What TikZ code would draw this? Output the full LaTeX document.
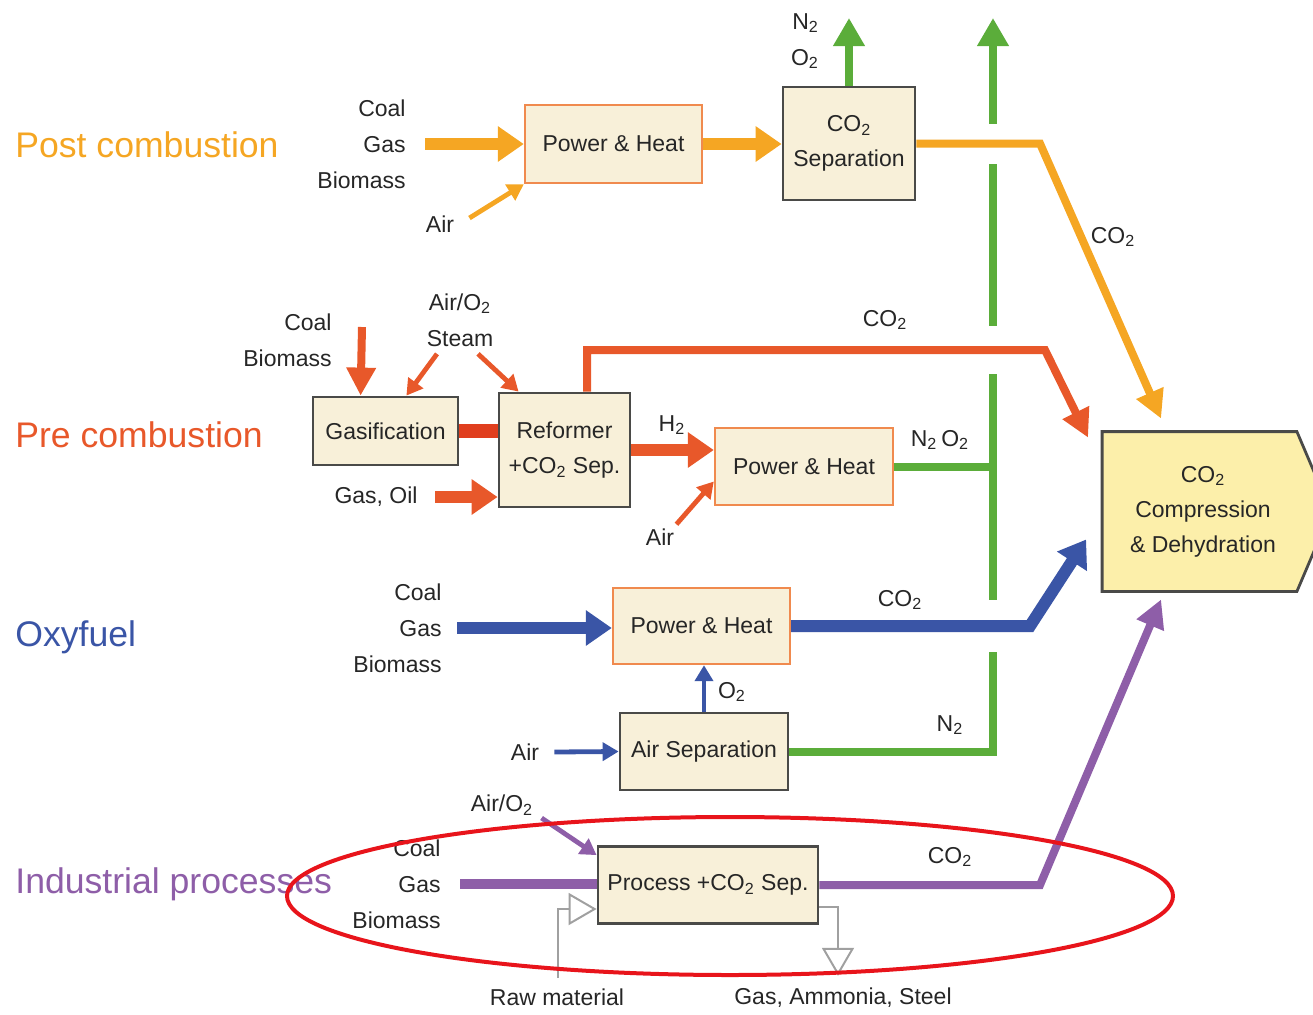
\documentclass[tikz,border=0pt]{standalone}
\usepackage{fontspec}
\setmainfont{Liberation Sans}
\usetikzlibrary{arrows.meta,calc,backgrounds}

\definecolor{couleurpost}{HTML}{F5A623}
\definecolor{couleurpre}{HTML}{E8582A}
\definecolor{couleurrouge}{HTML}{E03E1E}
\definecolor{couleuroxy}{HTML}{3A55A6}
\definecolor{couleurindu}{HTML}{8E5EA8}
\definecolor{couleurvert}{HTML}{5BAD3A}
\definecolor{couleurgris}{HTML}{A0A0A0}
\definecolor{couleurboite}{HTML}{F8F0D9}
\definecolor{couleurcomp}{HTML}{FCEFAA}
\definecolor{couleurbord}{HTML}{4A4A48}
\definecolor{couleurbordph}{HTML}{F08A4E}
\definecolor{couleurtext}{HTML}{262626}
\definecolor{couleurcercle}{HTML}{E8141B}
\tikzset{
		basic/.style={draw=couleurbord, line width=1.4pt, fill=couleurboite, text=couleurtext, align=center, font=\fontsize{11.5}{17.5}\selectfont, inner sep=0pt, anchor=center},
		chaleur/.style={basic, draw=couleurbordph, line width=1.2pt},
		etiquette/.style={text=couleurtext, align=center, font=\fontsize{11.5}{18}\selectfont, inner sep=0pt},
		titre/.style={anchor=west, inner sep=0pt, font=\fontsize{17.8}{20}\selectfont},
		grosse/.style={line width=6pt, -{Triangle[width=17pt,length=13pt]}},
		moyenne/.style={line width=4pt, -{Triangle[width=14pt,length=14pt]}},
		fine/.style={line width=2.4pt, -{Triangle[width=9pt,length=8pt]}},
		montee/.style={couleurvert, line width=4pt, -{Triangle[width=15pt,length=14pt]}},
		trou/.style={white, line width=20pt, shorten <=2pt},
		creux/.style={couleurgris, line width=1pt, -{Triangle[open,width=16pt,length=14pt]}}
	}

\begin{document}
\begin{tikzpicture}[x=0.5pt, y=-0.5pt]
		\useasboundingbox (0,0) rectangle (1313,1014);
		% titres
		\node[titre, text=couleurpost](titrepost) at (15,145) {Post combustion};
		\node[titre, text=couleurpre](titrepre) at (15,435) {Pre combustion};
		\node[titre, text=couleuroxy](titreoxy) at (15,637) {Oxyfuel};
		\node[titre, text=couleurindu](titreindu) at (15,884) {Industrial processes};
		% boites
		\node[chaleur, minimum width=88.5pt, minimum height=39pt](chaleurpost) at (613.5,144) {Power \& Heat};
		\node[basic, minimum width=66pt, minimum height=56.5pt](separation) at (849,143.5) {CO\textsubscript{2}\\Separation};
		\node[basic, minimum width=72.5pt, minimum height=34pt](gazeif) at (385.5,431) {Gasification};
		\node[basic, minimum width=65.5pt, minimum height=57pt](reformeur) at (564.5,450) {Reformer\\+CO\textsubscript{2} Sep.};
		\node[chaleur, minimum width=89pt, minimum height=38.5pt](chaleurpre) at (804,466.5) {Power \& Heat};
		\node[chaleur, minimum width=88.5pt, minimum height=38pt](chaleuroxy) at (701.5,626) {Power \& Heat};
		\node[basic, minimum width=84pt, minimum height=38.5pt](sepair) at (704,751.5) {Air Separation};
		\node[basic, minimum width=110pt, minimum height=38.5pt](procede) at (708,885) {Process +CO\textsubscript{2} Sep.};
		\node[basic, draw=none, fill=none, minimum width=97.5pt, minimum height=78.5pt](compression) at (1203,511.5) {CO\textsubscript{2}\\Compression\\\& Dehydration};
		\begin{scope}[on background layer]
			\filldraw[fill=couleurcomp, draw=couleurbord, line width=1.4pt] ($(compression.north west)+(-2,0)$) -- ($(compression.north east)+(-5,0)$) -- ($(compression.east)+(29,0)$) -- ($(compression.south east)+(-5,0)$) -- ($(compression.south west)+(-2,0)$) -- cycle;
		\end{scope}
		% etiquettes
		\node[etiquette, align=right, anchor=east](entreepost) at (406,144) {Coal\\Gas\\Biomass};
		\node[etiquette](airpost) at (440,224) {Air};
		\node[etiquette, align=right](sortiepost) at (805,41) {N\textsubscript{2}\\O\textsubscript{2}};
		\node[etiquette, align=right, anchor=east](entreepre) at (332,340) {Coal\\Biomass};
		\node[etiquette](airpre) at (460,320) {Air/O\textsubscript{2}\\Steam};
		\node[etiquette, anchor=east](gazpetrole) at (418,497) {Gas, Oil};
		\node[etiquette](hydrogene) at (672,425) {H\textsubscript{2}};
		\node[etiquette](airpre2) at (660,537) {Air};
		\node[etiquette](azoxpre) at (940,440) {N\textsubscript{2}\,O\textsubscript{2}};
		\node[etiquette, align=right, anchor=east](entreeoxy) at (442,628) {Coal\\Gas\\Biomass};
		\node[etiquette](airoxy) at (525,752) {Air};
		\node[etiquette](oxygene) at (732,692) {O\textsubscript{2}};
		\node[etiquette](azote) at (950,725) {N\textsubscript{2}};
		\node[etiquette, align=right, anchor=east](entreeindu) at (441,884) {Coal\\Gas\\Biomass};
		\node[etiquette](airindu) at (502,805) {Air/O\textsubscript{2}};
		\node[etiquette](matiere) at (557,997) {Raw material};
		\node[etiquette](produits) at (843,998) {Gas, Ammonia, Steel};
		% coudes
		\coordinate (coudepost) at (1040,143.5);
		\coordinate (coudepre1) at (587,350);
		\coordinate (coudepre2) at (1045,350);
		\coordinate (coudeoxy) at (1030,626);
		\coordinate (coudeindu) at (1040,885);
		\coordinate (vertbas) at (993,751.5);
		\coordinate (verthaut) at (993,18);
		% sorties vertes
		\draw[montee] (sepair.east) -- (vertbas) -- (verthaut);
		\draw[montee] (separation.north) -- (separation.north |- verthaut);
		\draw[couleurvert, line width=4pt] (chaleurpre.east) -- (chaleurpre.east -| vertbas);
		\draw[trou] (separation.east) -- (coudepost);
		\draw[trou, line width=24pt] (coudepre1) -- (coudepre2);
		\draw[trou, line width=26pt] (chaleuroxy.east) -- (coudeoxy);
		% post combustion
		\draw[grosse, couleurpost] ($(entreepost.east)+(19,0)$) -- (chaleurpost.west);
		\draw[fine, couleurpost] ($(airpost.east)+(15,-6)$) -- (chaleurpost.south west);
		\draw[grosse, couleurpost] (chaleurpost.east) -- (chaleurpost.east -| separation.west);
		\draw[moyenne, couleurpost] (separation.east) -- (coudepost) -- ($(compression.north west)+(57,-13)$);
		% pre combustion
		\draw[moyenne, couleurpre] ($(entreepre.east)+(30,-13)$) -- ($(gazeif.north west)+(49,0)$);
		\draw[fine, couleurpre] ($(airpre.south)+(-23,7)$) -- ($(gazeif.north east)+(-53,0)$);
		\draw[fine, couleurpre] ($(airpre.south)+(18,7)$) -- ($(reformeur.north west)+(21,0)$);
		\draw[couleurrouge, line width=7pt] (gazeif.east) -- (gazeif.east -| reformeur.west);
		\draw[grosse, couleurpre] ($(gazpetrole.east)+(17,0)$) -- (gazpetrole.east -| reformeur.west);
		\draw[grosse, couleurpre] (reformeur.east) -- (reformeur.east -| chaleurpre.west);
		\draw[fine, couleurpre] ($(airpre2.north east)+(2,-4)$) -- ($(chaleurpre.west)+(0,15)$);
		\draw[moyenne, couleurpre] (reformeur.north -| coudepre1) -- (coudepre1) -- (coudepre2) -- ($(compression.north west)+(-16,6)$);
		% oxyfuel
		\draw[grosse, couleuroxy] ($(entreeoxy.east)+(15,0)$) -- (entreeoxy.east -| chaleuroxy.west);
		\draw[grosse, couleuroxy] (chaleuroxy.east) -- (coudeoxy) -- ($(compression.west)+(-18,28)$);
		\draw[fine, couleuroxy] ($(airoxy.east)+(15,0)$) -- (sepair.west);
		\draw[fine, couleuroxy] (sepair.north) -- (sepair.north |- chaleuroxy.south);
		% industrial
		\draw[couleurindu, line width=5pt] ($(entreeindu.east)+(19,0)$) -- (entreeindu.east -| procede.west);
		\draw[fine, couleurindu] ($(airindu.east)+(8,13)$) -- ($(procede.north west)+(0,10)$);
		\draw[moyenne, couleurindu] (procede.east) -- (coudeindu) -- ($(compression.south west)+(57,8)$);
		\draw[creux] ($(matiere.north)+(1,-10)$) |- ($(procede.west)+(0,24)$);
		\draw[creux] ($(procede.east)+(0,22)$) -| ($(produits.north)+(-5,-12)$);
		% CO2
		\node[etiquette](co2post) at (1113,237) {CO\textsubscript{2}};
		\node[etiquette](co2pre) at (885,320) {CO\textsubscript{2}};
		\node[etiquette](co2oxy) at (900,600) {CO\textsubscript{2}};
		\node[etiquette](co2indu) at (950,857) {CO\textsubscript{2}};
		% cercle
		\draw[couleurcercle, line width=2pt] (730,896) ellipse [x radius=221.5pt, y radius=39.5pt];
	\end{tikzpicture}
\end{document}
